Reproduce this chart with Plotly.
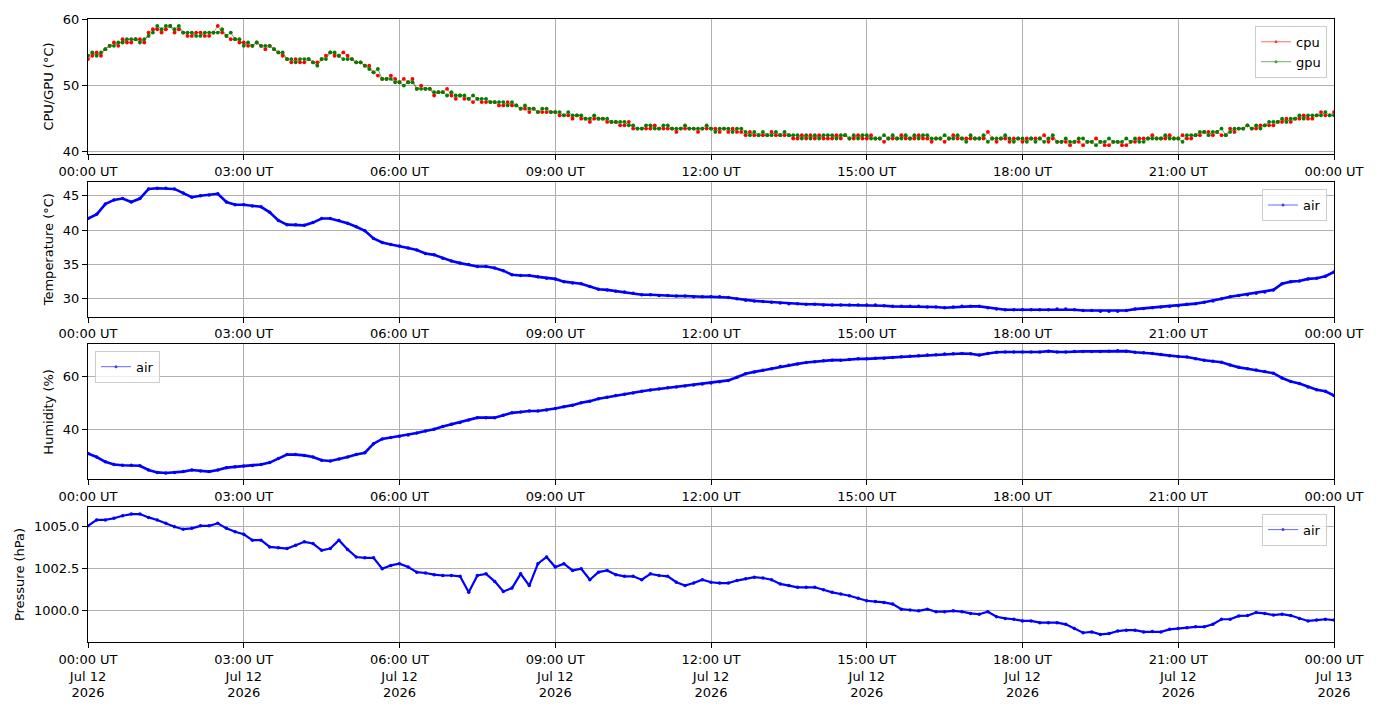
import pandas as pd
import plotly.graph_objects as go
from plotly.subplots import make_subplots

# cpu/gpu sampled every 5 minutes, air sensor every 10 minutes
times_5 = pd.date_range("2026-07-12 00:00", "2026-07-13 00:00", freq="5min")
times_10 = pd.date_range("2026-07-12 00:00", "2026-07-13 00:00", freq="10min")

cpu = [
    54.0, 54.5, 55.0, 54.5, 55.5, 56.0, 56.5, 56.0, 57.0, 56.5, 56.5, 57.0,
    57.0, 56.5, 58.0, 58.5, 58.5, 58.0, 58.5, 59.0, 58.0, 58.5, 58.0, 57.5,
    57.5, 58.0, 58.0, 57.5, 57.5, 58.0, 59.0, 58.0, 57.5, 57.0, 57.0, 56.5,
    56.5, 56.0, 56.0, 56.5, 56.0, 55.5, 56.0, 55.5, 55.0, 54.5, 54.0, 53.5,
    54.0, 53.5, 53.5, 54.0, 53.5, 53.5, 54.0, 54.5, 55.0, 54.5, 54.5, 55.0,
    54.5, 54.0, 53.5, 53.5, 53.0, 53.0, 52.0, 51.5, 51.0, 51.0, 51.5, 51.0,
    50.5, 51.0, 50.5, 51.0, 49.5, 50.0, 49.5, 49.5, 48.5, 49.0, 49.0, 49.5,
    48.5, 48.0, 48.5, 48.0, 48.0, 47.5, 48.0, 47.5, 47.5, 47.5, 47.5, 47.0,
    47.0, 47.5, 47.0, 47.0, 46.5, 46.5, 46.0, 46.5, 46.0, 46.0, 46.0, 46.0,
    46.0, 45.5, 45.5, 45.5, 45.0, 45.5, 45.0, 45.0, 44.5, 45.0, 45.0, 45.0,
    44.5, 44.5, 44.5, 44.0, 44.0, 44.5, 43.5, 43.5, 43.5, 43.5, 43.5, 44.0,
    43.5, 43.5, 43.5, 43.5, 43.0, 43.5, 43.5, 43.5, 43.5, 43.0, 43.5, 43.5,
    43.5, 43.5, 43.0, 43.5, 43.0, 43.5, 43.0, 43.0, 42.5, 43.0, 42.5, 42.5,
    42.5, 42.5, 43.0, 42.5, 42.5, 42.5, 42.5, 42.0, 42.0, 42.5, 42.0, 42.5,
    42.0, 42.5, 42.0, 42.0, 42.0, 42.5, 42.0, 42.5, 42.0, 42.0, 42.5, 42.0,
    42.0, 42.5, 42.0, 42.0, 41.5, 42.0, 42.0, 42.0, 42.5, 42.0, 42.0, 42.0,
    42.5, 42.0, 42.0, 41.5, 42.0, 42.0, 41.5, 42.0, 42.5, 42.0, 42.0, 42.0,
    42.0, 42.0, 42.0, 42.0, 43.0, 42.0, 41.5, 42.0, 42.0, 41.5, 42.0, 42.0,
    41.5, 42.0, 42.0, 42.0, 42.0, 42.5, 41.5, 42.0, 41.5, 41.5, 41.5, 41.0,
    41.5, 41.5, 41.0, 41.5, 41.5, 42.0, 41.5, 41.0, 41.0, 41.5, 41.5, 41.0,
    41.0, 41.5, 41.5, 42.0, 42.0, 42.0, 42.5, 42.0, 42.0, 42.0, 42.5, 42.0,
    42.0, 42.5, 42.0, 42.0, 42.5, 42.5, 43.0, 43.0, 42.5, 43.0, 42.5, 42.5,
    43.5, 43.0, 43.5, 43.5, 44.0, 43.5, 43.5, 44.0, 44.0, 44.0, 44.0, 44.5,
    44.5, 45.0, 44.5, 45.0, 45.0, 45.5, 45.0, 45.0, 45.5, 46.0, 45.5, 45.5,
    46.0,
]

gpu = [
    54.5, 55.0, 54.5, 55.0, 55.5, 56.0, 56.0, 56.5, 56.5, 57.0, 57.0, 57.0,
    56.5, 57.0, 57.5, 58.0, 59.0, 58.5, 59.0, 59.0, 58.5, 59.0, 58.0, 58.0,
    58.0, 57.5, 57.5, 58.0, 58.0, 58.0, 58.0, 58.5, 57.5, 58.0, 57.0, 57.0,
    56.0, 56.5, 56.0, 56.5, 56.0, 56.0, 56.0, 55.5, 55.0, 55.0, 54.0, 54.0,
    53.5, 54.0, 54.0, 54.0, 53.5, 53.0, 54.0, 54.0, 55.0, 55.0, 54.5, 54.0,
    54.0, 54.0, 53.5, 53.5, 53.0, 52.5, 52.0, 52.5, 51.0, 51.0, 51.0, 50.5,
    50.5, 50.0, 50.5, 50.5, 49.5, 49.5, 49.5, 49.5, 49.0, 49.0, 49.0, 48.5,
    49.0, 48.5, 48.5, 48.5, 48.0, 48.5, 48.0, 48.0, 48.0, 47.5, 47.5, 47.5,
    47.5, 47.0, 47.5, 47.0, 46.5, 47.0, 46.5, 46.5, 46.0, 46.5, 46.5, 46.0,
    46.0, 46.0, 45.5, 46.0, 45.5, 45.5, 45.5, 45.0, 45.0, 45.5, 45.0, 45.0,
    45.0, 44.5, 44.5, 44.5, 44.5, 44.0, 44.0, 43.5, 43.5, 44.0, 44.0, 43.5,
    43.5, 44.0, 44.0, 43.5, 43.5, 43.5, 44.0, 43.5, 43.5, 43.5, 43.5, 44.0,
    43.5, 43.0, 43.5, 43.5, 43.5, 43.0, 43.5, 43.5, 43.0, 42.5, 43.0, 42.5,
    43.0, 42.5, 42.5, 43.0, 42.5, 43.0, 42.5, 42.5, 42.5, 42.0, 42.5, 42.0,
    42.5, 42.0, 42.5, 42.5, 42.5, 42.0, 42.5, 42.5, 42.0, 42.5, 42.0, 42.5,
    42.5, 42.0, 42.0, 42.0, 42.5, 42.0, 42.5, 42.0, 42.0, 42.5, 42.0, 42.5,
    42.0, 42.5, 42.5, 42.0, 42.0, 42.0, 42.5, 42.0, 42.0, 42.5, 42.0, 41.5,
    42.5, 42.0, 42.0, 42.5, 41.5, 42.0, 42.0, 42.0, 42.5, 42.0, 41.5, 42.0,
    42.0, 41.5, 42.0, 41.5, 42.0, 41.5, 42.0, 42.5, 41.5, 41.5, 42.0, 41.5,
    41.5, 42.0, 42.0, 41.5, 41.5, 41.0, 41.5, 41.5, 42.0, 41.5, 41.5, 41.5,
    42.0, 41.5, 42.0, 41.5, 41.5, 42.0, 42.0, 42.0, 42.0, 42.5, 42.0, 42.0,
    42.0, 41.5, 42.5, 42.5, 42.5, 43.0, 43.0, 42.5, 43.0, 43.0, 43.5, 42.5,
    43.0, 43.5, 43.5, 43.5, 44.0, 43.5, 44.0, 43.5, 44.0, 44.5, 44.5, 44.5,
    45.0, 44.5, 45.0, 45.0, 45.5, 45.0, 45.5, 45.5, 45.5, 45.5, 46.0, 45.5,
    45.5,
]

air_temp = [
    41.7, 42.3, 43.8, 44.4, 44.6, 44.1,
    44.6, 46.0, 46.1, 46.1, 46.0, 45.4,
    44.8, 45.0, 45.1, 45.3, 44.1, 43.7,
    43.7, 43.5, 43.4, 42.6, 41.4, 40.8,
    40.8, 40.7, 41.1, 41.7, 41.7, 41.4,
    41.0, 40.5, 39.9, 38.8, 38.2, 37.9,
    37.7, 37.4, 37.1, 36.6, 36.4, 35.9,
    35.5, 35.2, 35.0, 34.7, 34.7, 34.5,
    34.1, 33.5, 33.4, 33.4, 33.2, 33.0,
    32.9, 32.5, 32.3, 32.2, 31.8, 31.4,
    31.3, 31.1, 31.0, 30.8, 30.6, 30.6,
    30.5, 30.5, 30.4, 30.4, 30.3, 30.3,
    30.3, 30.3, 30.2, 30.0, 29.8, 29.7,
    29.6, 29.5, 29.4, 29.3, 29.3, 29.2,
    29.2, 29.1, 29.1, 29.1, 29.1, 29.1,
    29.1, 29.1, 29.0, 28.9, 28.9, 28.9,
    28.9, 28.8, 28.8, 28.7, 28.8, 28.9,
    28.9, 28.9, 28.7, 28.5, 28.4, 28.4,
    28.4, 28.4, 28.4, 28.4, 28.5, 28.5,
    28.4, 28.3, 28.3, 28.2, 28.2, 28.2,
    28.3, 28.5, 28.6, 28.7, 28.8, 28.9,
    29.0, 29.2, 29.3, 29.5, 29.7, 30.0,
    30.3, 30.5, 30.6, 30.8, 31.0, 31.3,
    32.2, 32.5, 32.6, 32.9, 33.0, 33.3,
    33.9,
]

air_humidity = [
    30.9, 29.6, 27.8, 26.8, 26.5, 26.5,
    26.3, 24.7, 23.8, 23.6, 23.8, 24.1,
    24.7, 24.3, 24.1, 24.7, 25.6, 25.9,
    26.2, 26.4, 26.8, 27.5, 29.0, 30.5,
    30.5, 30.2, 29.6, 28.4, 28.1, 28.8,
    29.6, 30.5, 31.2, 34.6, 36.4, 36.9,
    37.4, 37.9, 38.6, 39.4, 40.0, 41.1,
    41.9, 42.6, 43.5, 44.4, 44.4, 44.4,
    45.3, 46.2, 46.5, 46.9, 46.9, 47.3,
    47.8, 48.5, 49.1, 50.0, 50.6, 51.5,
    52.1, 52.7, 53.2, 53.7, 54.3, 54.8,
    55.2, 55.6, 55.9, 56.3, 56.7, 57.0,
    57.4, 57.9, 58.4, 59.6, 60.9, 61.6,
    62.2, 62.8, 63.6, 64.1, 64.6, 65.1,
    65.4, 65.8, 66.0, 66.0, 66.3, 66.5,
    66.5, 66.7, 66.7, 67.0, 67.3, 67.5,
    67.7, 67.9, 68.0, 68.3, 68.4, 68.5,
    68.4, 67.9, 68.5, 69.0, 69.1, 69.1,
    69.1, 69.1, 69.1, 69.4, 69.1, 69.1,
    69.3, 69.3, 69.3, 69.3, 69.4, 69.5,
    69.4, 69.0, 68.8, 68.5, 68.1, 67.7,
    67.4, 67.2, 66.5, 66.0, 65.6, 65.2,
    64.2, 63.3, 62.8, 62.3, 61.7, 61.1,
    59.3, 58.0, 57.2, 55.9, 54.9, 54.3,
    52.7,
]

air_pressure = [
    1005.05, 1005.40, 1005.40, 1005.50, 1005.65, 1005.75,
    1005.75, 1005.55, 1005.40, 1005.20, 1005.00, 1004.85,
    1004.90, 1005.05, 1005.05, 1005.20, 1004.90, 1004.70,
    1004.55, 1004.20, 1004.20, 1003.80, 1003.75, 1003.70,
    1003.90, 1004.10, 1004.00, 1003.60, 1003.70, 1004.20,
    1003.65, 1003.20, 1003.15, 1003.15, 1002.50, 1002.70,
    1002.80, 1002.60, 1002.30, 1002.25, 1002.15, 1002.10,
    1002.10, 1002.05, 1001.10, 1002.10, 1002.20, 1001.75,
    1001.15, 1001.35, 1002.20, 1001.50, 1002.80, 1003.20,
    1002.60, 1002.80, 1002.40, 1002.50, 1001.85, 1002.30,
    1002.40, 1002.15, 1002.05, 1002.05, 1001.85, 1002.20,
    1002.10, 1002.05, 1001.70, 1001.50, 1001.65, 1001.85,
    1001.70, 1001.65, 1001.65, 1001.80, 1001.90, 1002.00,
    1001.95, 1001.85, 1001.60, 1001.50, 1001.40, 1001.40,
    1001.40, 1001.25, 1001.10, 1001.00, 1000.90, 1000.75,
    1000.60, 1000.55, 1000.50, 1000.40, 1000.10, 1000.05,
    1000.00, 1000.10, 999.95, 999.95, 1000.00, 999.95,
    999.85, 999.80, 999.95, 999.65, 999.55, 999.50,
    999.40, 999.40, 999.30, 999.30, 999.30, 999.20,
    998.95, 998.70, 998.75, 998.60, 998.65, 998.80,
    998.85, 998.85, 998.75, 998.77, 998.75, 998.90,
    998.95, 999.00, 999.05, 999.05, 999.20, 999.50,
    999.50, 999.70, 999.72, 999.90, 999.85, 999.75,
    999.80, 999.72, 999.55, 999.40, 999.45, 999.50,
    999.45,
]

tick_times = ["2026-07-12 00:00:00", "2026-07-12 03:00:00", "2026-07-12 06:00:00",
              "2026-07-12 09:00:00", "2026-07-12 12:00:00", "2026-07-12 15:00:00",
              "2026-07-12 18:00:00", "2026-07-12 21:00:00", "2026-07-13 00:00:00"]
tick_labels = ["00:00 UT", "03:00 UT", "06:00 UT", "09:00 UT", "12:00 UT",
               "15:00 UT", "18:00 UT", "21:00 UT", "00:00 UT"]
tick_dates = ["Jul 12", "Jul 12", "Jul 12", "Jul 12", "Jul 12",
              "Jul 12", "Jul 12", "Jul 12", "Jul 13"]
tick_years = ["2026"] * 9

FONT = "DejaVu Sans"
GRID = "#b0b0b0"

fig = make_subplots(rows=4, cols=1, vertical_spacing=28 / 631)


def add_series(x, y, name, line_color, marker_color, row, legend, lw=0.8, ms=3.5):
    # data trace
    fig.add_trace(go.Scatter(
        x=x, y=y, mode="lines+markers", name=name,
        line=dict(color=line_color, width=lw),
        marker=dict(color=marker_color, size=ms),
        showlegend=False,
    ), row=row, col=1)
    # legend entry drawn like matplotlib: thin faded line, small dot
    fig.add_trace(go.Scatter(
        x=[None], y=[None], mode="lines+markers", name=name,
        line=dict(color=marker_color, width=0.8),
        marker=dict(color=marker_color, size=3),
        opacity=0.75, legend=legend,
    ), row=row, col=1)


add_series(times_5, cpu, "cpu", "rgba(255,0,0,0.6)", "red", 1, "legend", lw=0.8, ms=3.8)
add_series(times_5, gpu, "gpu", "rgba(0,128,0,0.8)", "green", 1, "legend", lw=0.8, ms=3.8)
add_series(times_10, air_temp, "air", "blue", "blue", 2, "legend2", lw=2.6, ms=3.5)
add_series(times_10, air_humidity, "air", "blue", "blue", 3, "legend3", lw=2.6, ms=3.5)
add_series(times_10, air_pressure, "air", "blue", "blue", 4, "legend4", lw=2.2, ms=3.5)

x_range = [tick_times[0], tick_times[-1]]
bottom_text = [f"{a}<br>{b}<br>{c}" for a, b, c in zip(tick_labels, tick_dates, tick_years)]

for row in range(1, 5):
    fig.update_xaxes(
        row=row, col=1, type="date", range=x_range,
        tickvals=tick_times,
        ticktext=bottom_text if row == 4 else tick_labels,
        showgrid=True, gridcolor=GRID, gridwidth=1,
        showline=True, linecolor="black", linewidth=1, mirror=True,
        ticks="outside", ticklen=5, tickcolor="black",
        tickfont=dict(family=FONT, size=13, color="black"),
        zeroline=False,
    )

y_specs = [
    ("CPU/GPU (°C)", [39.66, 60.05], [40, 50, 60], ["40", "50", "60"]),
    ("Temperature (°C)", [27.4, 47.06], [30, 35, 40, 45], ["30", "35", "40", "45"]),
    ("Humidity (%)", [21.2, 71.96], [40, 60], ["40", "60"]),
    ("Pressure (hPa)", [998.15, 1006.17], [1000.0, 1002.5, 1005.0], ["1000.0", "1002.5", "1005.0"]),
]
for row, (title, rng, tv, tt) in enumerate(y_specs, start=1):
    fig.update_yaxes(
        row=row, col=1, range=rng, tickvals=tv, ticktext=tt,
        title=dict(text=title, font=dict(family=FONT, size=13, color="black"), standoff=6),
        showgrid=True, gridcolor=GRID, gridwidth=1,
        showline=True, linecolor="black", linewidth=1, mirror=True,
        ticks="outside", ticklen=5, tickcolor="black",
        tickfont=dict(family=FONT, size=13, color="black"),
        zeroline=False,
    )

legend_style = dict(
    bgcolor="rgba(255,255,255,0.8)", bordercolor="#cccccc", borderwidth=1,
    font=dict(family=FONT, size=13, color="black"),
    itemwidth=30, tracegroupgap=0,
)

fig.update_layout(
    width=1376, height=712,
    margin=dict(l=88, r=41, t=15, b=66),
    paper_bgcolor="white", plot_bgcolor="white",
    font=dict(family=FONT, size=13, color="black"),
    hovermode=False,
    showlegend=True,
    legend=dict(x=0.9944, y=0.989, xanchor="right", yanchor="top", **legend_style),
    legend2=dict(x=0.9944, y=0.727, xanchor="right", yanchor="top", **legend_style),
    legend3=dict(x=0.0056, y=0.4675, xanchor="left", yanchor="top", **legend_style),
    legend4=dict(x=0.9944, y=0.206, xanchor="right", yanchor="top", **legend_style),
)

fig.write_html("out.html", config={"displayModeBar": False},
               post_script="document.body.style.margin='0';")
